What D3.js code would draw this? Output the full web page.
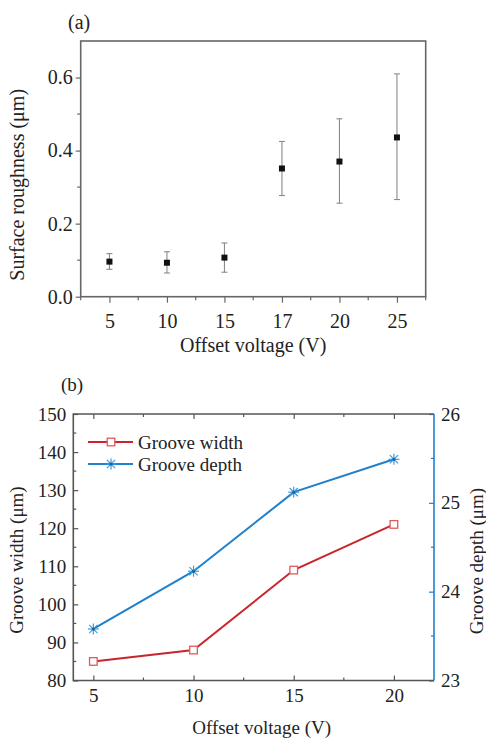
<!DOCTYPE html>
<html><head><meta charset="utf-8">
<script src="https://cdn.jsdelivr.net/npm/d3@7"></script>
</head><body style="margin:0;background:#fff">
<svg id="c" width="486" height="740" style="display:block"></svg>
<script>
// ---- Panel (a) data ----
const voltsA = ["5","10","15","17","20","25"];
const roughness = [0.096, 0.093, 0.107, 0.351, 0.370, 0.436];
const errLow = [0.075, 0.065, 0.067, 0.277, 0.256, 0.266];
const errHigh = [0.118, 0.123, 0.147, 0.425, 0.487, 0.610];
const ticksA = [0, 0.2, 0.4, 0.6];
const minorTicksA = [0.1, 0.3, 0.5];

// ---- Panel (b) data ----
const voltsB = [5, 10, 15, 20];
const grooveWidth = [85, 88, 109, 121];
const grooveDepth = [23.58, 24.23, 25.12, 25.49];
const ticksBx = [5, 10, 15, 20];
const minorBx = [7.5, 12.5, 17.5];
const ticksBl = [80, 90, 100, 110, 120, 130, 140, 150];
const minorBl = [85, 95, 105, 115, 125, 135, 145];
const ticksBr = [23, 24, 25, 26];
const minorBr = [23.5, 24.5, 25.5];

const FONT = '"Liberation Serif"';
const svg = d3.select("#c");
const gray = "#666", red = "#c8262c", redM = "#e05a5a", blue = "#1f80cc";

function styleText(sel, size) {
  sel.style("font-family", FONT).attr("font-size", size).attr("fill", "#222");
  return sel;
}

// ================= Panel (a) =================
const A = {l: 80.7, r: 425.7, t: 41, b: 296.7};
const xa = d3.scalePoint().domain(voltsA).range([A.l, A.r]).padding(0.5);
const ya = d3.scaleLinear().domain([0, 0.7]).range([A.b, A.t]);
const ga = svg.append("g");

const axBA = ga.append("g").attr("transform", `translate(0,${A.b})`)
  .call(d3.axisBottom(xa).tickSize(6).tickPadding(11));
const boundaries = voltsA.map(v => xa(v) - xa.step()/2).concat([xa(voltsA[voltsA.length-1]) + xa.step()/2]);
ga.append("g").selectAll("line").data(boundaries).join("line")
  .attr("x1", d => d).attr("x2", d => d).attr("y1", A.b).attr("y2", A.b + 3.5)
  .attr("stroke", gray).attr("stroke-width", 1.2);
const axLA = ga.append("g").attr("transform", `translate(${A.l},0)`)
  .call(d3.axisLeft(ya).tickValues(ticksA).tickFormat(d3.format(".1f")).tickSize(5).tickPadding(3));
ga.append("g").selectAll("line").data(minorTicksA).join("line")
  .attr("x1", A.l - 3.5).attr("x2", A.l).attr("y1", d => ya(d)).attr("y2", d => ya(d))
  .attr("stroke", gray).attr("stroke-width", 1.2);
[axBA, axLA].forEach(a => {
  a.select(".domain").remove();
  a.selectAll(".tick line").attr("stroke", gray).attr("stroke-width", 1.2);
  styleText(a.selectAll(".tick text"), 20);
});
ga.append("rect").attr("x", A.l).attr("y", A.t).attr("width", A.r - A.l).attr("height", A.b - A.t)
  .attr("fill", "none").attr("stroke", gray).attr("stroke-width", 1.6);

const eb = ga.append("g").attr("stroke", "#8a8a8a").attr("stroke-width", 1.1);
voltsA.forEach((v, i) => {
  const x = xa(v);
  eb.append("line").attr("x1", x).attr("x2", x).attr("y1", ya(errLow[i])).attr("y2", ya(errHigh[i]));
  eb.append("line").attr("x1", x - 3).attr("x2", x + 3).attr("y1", ya(errLow[i])).attr("y2", ya(errLow[i]));
  eb.append("line").attr("x1", x - 3).attr("x2", x + 3).attr("y1", ya(errHigh[i])).attr("y2", ya(errHigh[i]));
});
ga.append("g").selectAll("rect").data(voltsA).join("rect")
  .attr("x", d => xa(d) - 3).attr("y", (d, i) => ya(roughness[i]) - 3)
  .attr("width", 6).attr("height", 6).attr("fill", "#111");

styleText(ga.append("text").attr("x", 68).attr("y", 29).text("(a)"), 20);
styleText(ga.append("text").attr("x", (A.l + A.r)/2).attr("y", 352).attr("text-anchor", "middle")
  .text("Offset voltage (V)"), 20);
styleText(ga.append("text").attr("transform", `translate(24,${(A.t + A.b)/2 + 16}) rotate(-90)`)
  .attr("text-anchor", "middle").text("Surface roughness (μm)"), 20);

// ================= Panel (b) =================
const B = {l: 73.3, r: 434, t: 414, b: 680.5};
const xb = d3.scaleLinear().domain([4, 22]).range([B.l, B.r]);
const yl = d3.scaleLinear().domain([80, 150]).range([B.b, B.t]);
const yr = d3.scaleLinear().domain([23, 26]).range([B.b, B.t]);
const gb = svg.append("g");
const dark = "#555";

const axB = gb.append("g").attr("transform", `translate(0,${B.b})`)
  .call(d3.axisBottom(xb).tickValues(ticksBx).tickFormat(d3.format("d")).tickSize(-5).tickPadding(8));
const axT = gb.append("g").attr("transform", `translate(0,${B.t})`)
  .call(d3.axisTop(xb).tickValues(ticksBx).tickSize(-5).tickFormat(""));
const axL = gb.append("g").attr("transform", `translate(${B.l},0)`)
  .call(d3.axisLeft(yl).tickValues(ticksBl).tickFormat(d3.format("d")).tickSize(-5).tickPadding(7));
const axR = gb.append("g").attr("transform", `translate(${B.r},0)`)
  .call(d3.axisRight(yr).tickValues(ticksBr).tickFormat(d3.format("d")).tickSize(-5).tickPadding(7));
[axB, axT, axL, axR].forEach(a => {
  a.select(".domain").remove();
  a.selectAll(".tick line").attr("stroke", dark).attr("stroke-width", 1.2);
  styleText(a.selectAll(".tick text"), 19);
});
axR.selectAll(".tick line").attr("stroke", blue);
[[minorBx, B.b, -3], [minorBx, B.t, 3]].forEach(([arr, y0, d]) => {
  gb.append("g").selectAll("line").data(arr).join("line")
    .attr("x1", v => xb(v)).attr("x2", v => xb(v)).attr("y1", y0).attr("y2", y0 + d)
    .attr("stroke", dark).attr("stroke-width", 1.2);
});
gb.append("g").selectAll("line").data(minorBl).join("line")
  .attr("x1", B.l).attr("x2", B.l + 3).attr("y1", v => yl(v)).attr("y2", v => yl(v))
  .attr("stroke", dark).attr("stroke-width", 1.2);
gb.append("g").selectAll("line").data(minorBr).join("line")
  .attr("x1", B.r).attr("x2", B.r - 3).attr("y1", v => yr(v)).attr("y2", v => yr(v))
  .attr("stroke", blue).attr("stroke-width", 1.2);
gb.append("path").attr("d", `M${B.r},${B.t}H${B.l}V${B.b}H${B.r}`)
  .attr("fill", "none").attr("stroke", dark).attr("stroke-width", 1.6);
gb.append("line").attr("x1", B.r).attr("x2", B.r).attr("y1", B.t).attr("y2", B.b)
  .attr("stroke", blue).attr("stroke-width", 1.6);

const lw = d3.line().x((d, i) => xb(voltsB[i])).y(d => yl(d));
const ld = d3.line().x((d, i) => xb(voltsB[i])).y(d => yr(d));
gb.append("path").datum(grooveWidth).attr("d", lw).attr("fill", "none").attr("stroke", red).attr("stroke-width", 2);
gb.append("path").datum(grooveDepth).attr("d", ld).attr("fill", "none").attr("stroke", blue).attr("stroke-width", 2);

function square(g, x, y) {
  g.append("rect").attr("x", x - 3.8).attr("y", y - 3.8).attr("width", 7.6).attr("height", 7.6)
    .attr("fill", "#fff").attr("stroke", redM).attr("stroke-width", 1.3);
}
function star(g, x, y) {
  const s = 5.5, gg = g.append("g").attr("stroke", "#3a9be0").attr("stroke-width", 1.2);
  gg.append("line").attr("x1", x - s).attr("x2", x + s).attr("y1", y).attr("y2", y);
  gg.append("line").attr("x1", x).attr("x2", x).attr("y1", y - s).attr("y2", y + s);
  const k = s * 0.75;
  gg.append("line").attr("x1", x - k).attr("x2", x + k).attr("y1", y - k).attr("y2", y + k);
  gg.append("line").attr("x1", x - k).attr("x2", x + k).attr("y1", y + k).attr("y2", y - k);
  g.append("circle").attr("cx", x).attr("cy", y).attr("r", 1.5).attr("fill", "#1a5f9a");
}
grooveWidth.forEach((d, i) => square(gb, xb(voltsB[i]), yl(d)));
grooveDepth.forEach((d, i) => star(gb, xb(voltsB[i]), yr(d)));

const leg = [["Groove width", red, square, 442], ["Groove depth", blue, star, 464]];
leg.forEach(([t, c, m, y]) => {
  gb.append("line").attr("x1", 88).attr("x2", 133).attr("y1", y).attr("y2", y).attr("stroke", c).attr("stroke-width", 2);
  m(gb, 111, y);
  styleText(gb.append("text").attr("x", 138).attr("y", y + 6.5).text(t), 19);
});

styleText(gb.append("text").attr("x", 61).attr("y", 391).text("(b)"), 19);
styleText(gb.append("text").attr("x", (B.l + B.r)/2 + 8).attr("y", 734).attr("text-anchor", "middle")
  .text("Offset voltage (V)"), 19);
styleText(gb.append("text").attr("transform", `translate(23,560) rotate(-90)`)
  .attr("text-anchor", "middle").text("Groove width (μm)"), 19);
styleText(gb.append("text").attr("transform", `translate(483,561) rotate(-90)`)
  .attr("text-anchor", "middle").text("Groove depth (μm)"), 19);
</script>
</body></html>
